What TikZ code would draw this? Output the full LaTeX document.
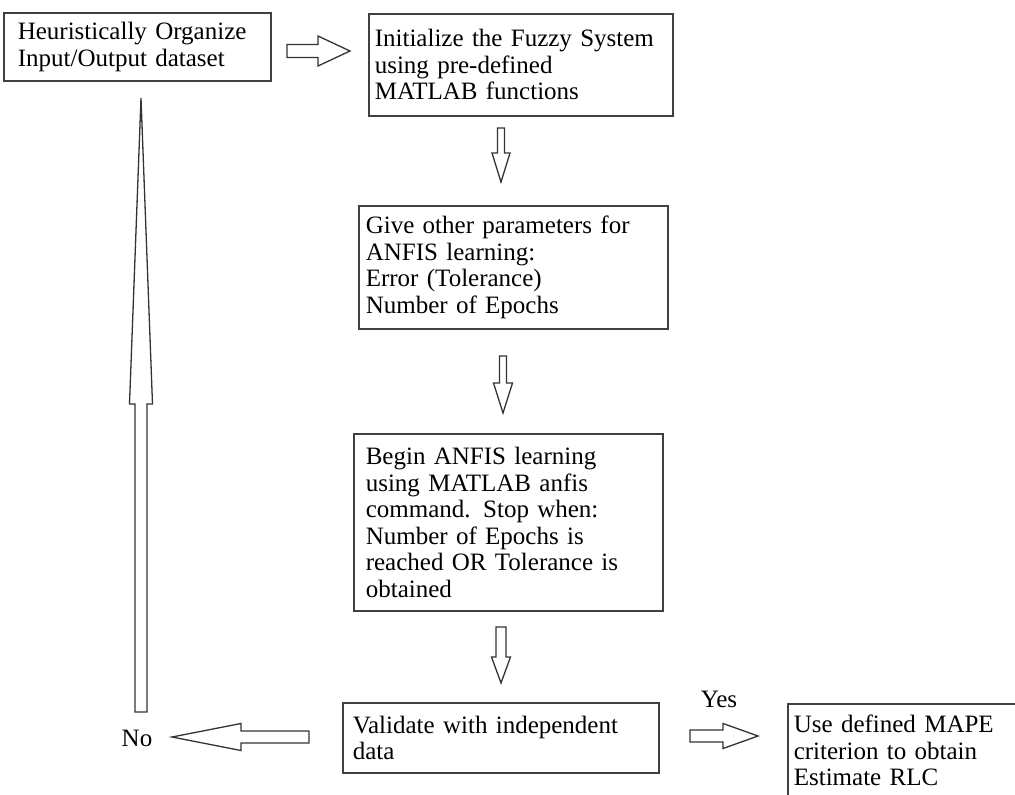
\documentclass[tikz,border=0pt]{standalone}
\usepackage{fontspec}
\setmainfont{Liberation Serif}
\usetikzlibrary{calc}

\begin{document}
\begin{tikzpicture}[x=1pt,y=-1pt,font=\fontsize{25}{26.5}\selectfont,
  box/.style={draw=black!75,line width=1.6pt,anchor=north west,align=left,inner ysep=0pt},
  blockarrow/.style n args={3}{draw=black!80,line width=1.3pt,to path={
    ($(\tikztostart)!#1!90:(\tikztotarget)$)
    -- ($(\tikztotarget)!#3!(\tikztostart)!#1!90:(\tikztotarget)$)
    -- ($(\tikztotarget)!#3!(\tikztostart)!#2!90:(\tikztotarget)$)
    -- (\tikztotarget)
    -- ($(\tikztotarget)!#3!(\tikztostart)!#2!-90:(\tikztotarget)$)
    -- ($(\tikztotarget)!#3!(\tikztostart)!#1!-90:(\tikztotarget)$)
    -- ($(\tikztostart)!#1!-90:(\tikztotarget)$) -- cycle}}]
\useasboundingbox (0,0) rectangle (1015,795);
\clip (0,0) rectangle (1015,795);
% boxes
\node[box,inner xsep=14pt,text width=239pt,minimum height=68pt] (org) at (3,12) {Heuristically Organize\\Input/Output dataset};
\node[box,inner xsep=6pt,text width=292pt,minimum height=102pt] (init) at (368,13) {Initialize the Fuzzy System\\using pre-defined\\MATLAB functions};
\node[box,inner xsep=7pt,text width=295pt,minimum height=123pt] (par) at (358,205) {Give other parameters for\\ANFIS learning:\\Error (Tolerance)\\Number of Epochs};
\node[box,inner xsep=12pt,text width=285pt,minimum height=177pt] (learn) at (353,433) {Begin ANFIS learning\\using MATLAB anfis\\command. Stop when:\\Number of Epochs is\\reached OR Tolerance is\\obtained};
\node[box,inner xsep=10pt,text width=296pt,minimum height=70pt] (val) at (342,702) {Validate with independent\\data};
\node[box,inner xsep=6pt,text width=228pt,minimum height=94pt] (est) at (787,703) {Use defined MAPE\\criterion to obtain\\Estimate RLC};
\node (no) at (137,738) {No};
\node (yes) at (719,699) {Yes};
% block arrows
\coordinate (s1) at (287,51);  \coordinate (t1) at (350,51);
\coordinate (s2) at (501,128); \coordinate (t2) at (501,182);
\coordinate (s3) at (503,356); \coordinate (t3) at (503,413);
\coordinate (s4) at (501,627); \coordinate (t4) at (501,683);
\coordinate (sn) at (309,737); \coordinate (tn) at (172,737);
\coordinate (sy) at (690,736); \coordinate (ty) at (758,736);
\coordinate (sb) at (141,712); \coordinate (tb) at (141,98);
\draw[blockarrow={6.5pt}{15pt}{32pt}] (s1) to (t1);
\draw[blockarrow={3.5pt}{9pt}{29pt}] (s2) to (t2);
\draw[blockarrow={3.5pt}{9.5pt}{30pt}] (s3) to (t3);
\draw[blockarrow={5pt}{9.5pt}{26pt}] (s4) to (t4);
\draw[blockarrow={6pt}{13.5pt}{69pt}] (sn) to (tn);
\draw[blockarrow={6pt}{12.5pt}{35pt}] (sy) to (ty);
\draw[blockarrow={6pt}{11.5pt}{306pt}] (sb) to (tb);
\end{tikzpicture}
\end{document}
